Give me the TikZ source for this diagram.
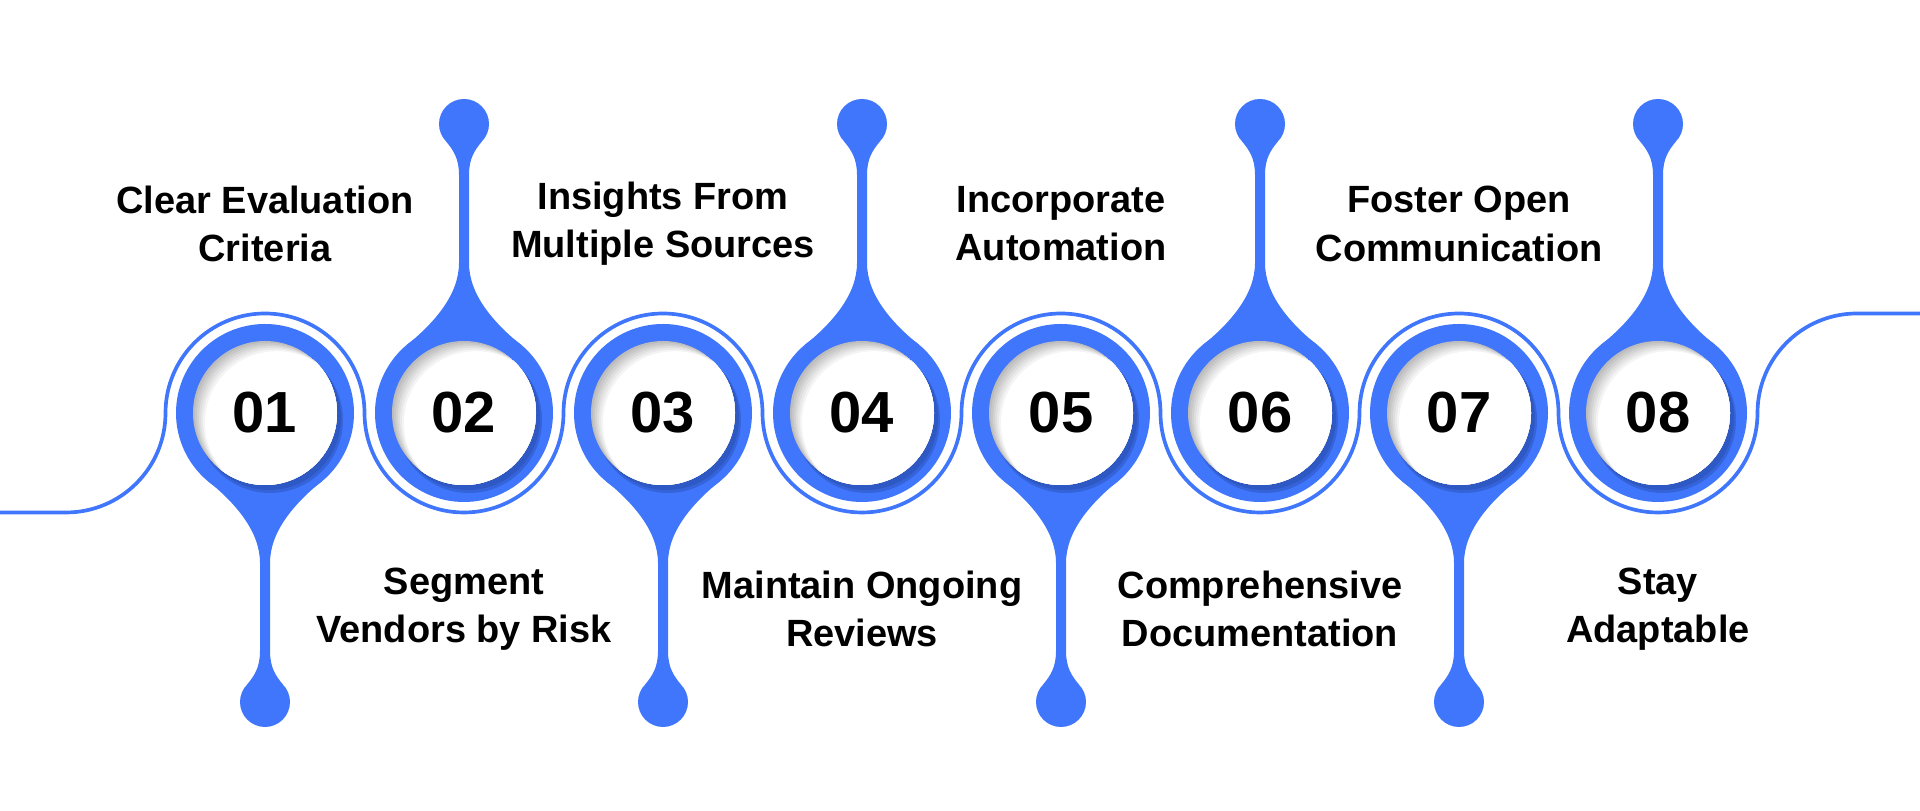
\documentclass[tikz,border=0pt]{standalone}
\usepackage{fontspec}
\setmainfont{Liberation Sans}
\usetikzlibrary{math}
\definecolor{dropblue}{RGB}{63,118,251}
\definecolor{shadeblue}{RGB}{46,88,196}
\definecolor{innergray}{RGB}{188,188,188}

\begin{document}
\begin{tikzpicture}[x=0.1mm,y=0.1mm,
  steptext/.style={align=center,font=\fontsize{10.8}{13.7}\selectfont\bfseries},
  stepnum/.style={font=\fontsize{16.5}{16.5}\selectfont\bfseries},
  wave/.style={dropblue,line width=1.05pt}]

\tikzmath{
\cy = 398;   % axis of the circles
\dx = 199;   % spacing
\xo = 265;   % first circle
\Ro = 89;    % outer drop
\Ri = 72;    % inner disc
\Rw = 99.5;  % wave
\Rb = 25;    % ball
\hb = 289;   % ball distance
\ty = 587;   % top labels
\by = 202;   % bottom labels
}

\useasboundingbox (0,0) rectangle (1920,811);

%wave line:
\draw[wave] (0,\cy-\Rw) -- (\xo-2*\Rw,\cy-\Rw) arc(270:360:\Rw)
  \foreach \k in {1,...,4} { arc(180:0:\Rw) arc(180:360:\Rw) }
  arc(180:90:\Rw) -- (1920,\cy+\Rw);

%drops:
\foreach \i [evaluate=\i as \x using {\xo+(\i-1)*\dx},
             evaluate=\i as \s using {int(1-2*mod(\i+1,2))}] in {1,...,8} {
  \begin{scope}[shift={(\x,\cy)},yscale=\s]
    \fill[dropblue] (0,0) circle(\Ro);
    \fill[dropblue] (-57,-68) .. controls (-30,-90) and (-5,-118) .. (-5,-150)
      -- (-5,-238) .. controls (-5,-255) and (-11,-263) .. (-17.7,-271.3)
      -- (17.7,-271.3) .. controls (11,-263) and (5,-255) .. (5,-238)
      -- (5,-150) .. controls (5,-118) and (30,-90) .. (57,-68) -- cycle;
    \fill[dropblue] (0,-\hb) circle(\Rb);
  \end{scope}
  %disc with shadows
  \begin{scope}[shift={(\x,\cy)}]
    \fill[shadeblue!60!dropblue] (5,-7) circle(\Ri+1);
    \fill[shadeblue] (4,-5) circle(\Ri);
    \begin{scope}
      \clip (0,0) circle(\Ri);
      \fill[innergray] (0,0) circle(\Ri);
      \foreach \j in {1,...,6}
        \fill[innergray!\fpeval{100-\j*100/6}!white] (2*\j,-1.7*\j) circle(\Ri);
    \end{scope}
  \end{scope}
  \node[stepnum] (n\i) at (\x,\cy) {0\i};
}

%labels
\foreach \i/\t in {1/{Clear Evaluation\\Criteria},3/{Insights From\\Multiple Sources},
                   5/{Incorporate\\Automation},7/{Foster Open\\Communication}}
  \node[steptext] (l\i) at ({\xo+(\i-1)*\dx},\ty) {\t};
\foreach \i/\t in {2/{Segment\\Vendors by Risk},4/{Maintain Ongoing\\Reviews},
                   6/{Comprehensive\\Documentation},8/{Stay\\Adaptable}}
  \node[steptext] (l\i) at ({\xo+(\i-1)*\dx},\by) {\t};

\end{tikzpicture}
\end{document}
